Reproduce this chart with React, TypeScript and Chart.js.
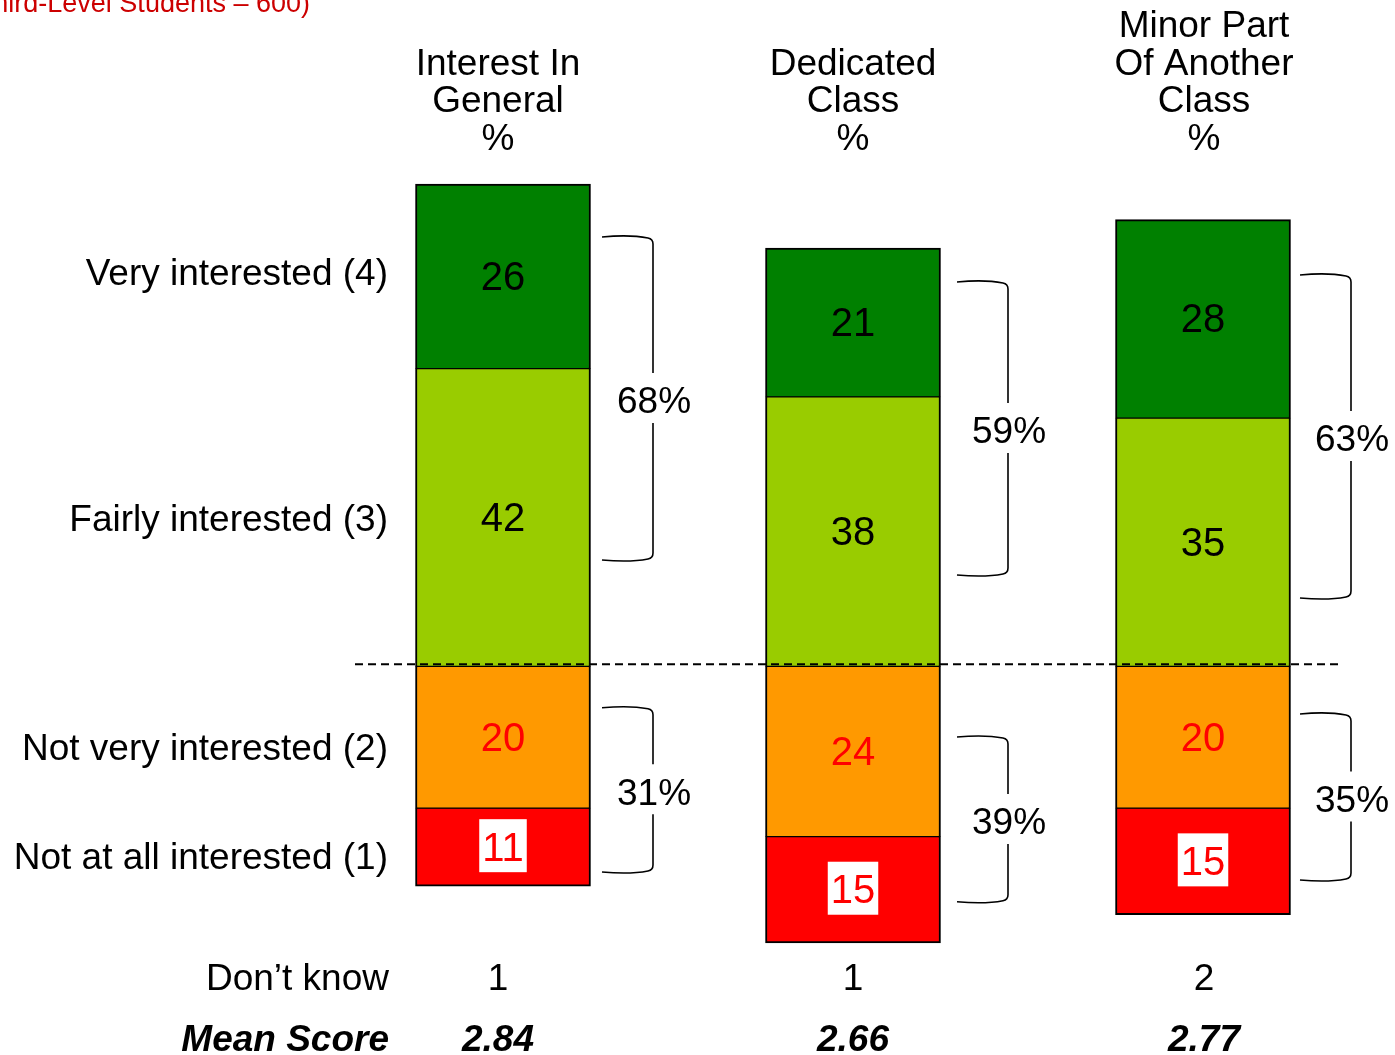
import { useEffect, useRef } from "react";
import { Chart, registerables } from "chart.js";

Chart.register(...registerables);

// ---- data ----
const categories = ["Interest In General", "Dedicated Class", "Minor Part Of Another Class"];
const columnHeaders = [
  ["Interest In", "General", "%"],
  ["Dedicated", "Class", "%"],
  ["Minor Part", "Of Another", "Class", "%"],
];
const veryInterested = [26, 21, 28];
const fairlyInterested = [42, 38, 35];
const notVeryInterested = [20, 24, 20];
const notAtAllInterested = [11, 15, 15];
const dontKnow = [1, 1, 2];
const meanScores = ["2.84", "2.66", "2.77"];
const rowLabels = [
  "Very interested (4)",
  "Fairly interested (3)",
  "Not very interested (2)",
  "Not at all interested (1)",
];
const baseNote = "(Base: All Third-Level Students – 600)";

// ---- layout (axis units / pixel offsets) ----
const rowLabelCenters = [55.6, 20.9, -11.4, -26.7];
const topBracketSpans = [
  [60.56, 15.0],
  [54.21, 12.89],
  [55.2, 9.65],
];
const bottomBracketSpans = [
  [-5.84, -28.99],
  [-9.96, -33.2],
  [-6.71, -30.12],
];
const bracketShift = [0, 5, -2];
const columnTextShift = [-5, 0, 1];

const FONT_FAMILY = '"Liberation Sans", Arial, Helvetica, sans-serif';
const TEXT_SIZE = 37;
const VALUE_SIZE = 40;
const FONT = `${TEXT_SIZE}px ${FONT_FAMILY}`;
const FONT_BI = `italic bold ${TEXT_SIZE}px ${FONT_FAMILY}`;
const VALUE_FONT = `${VALUE_SIZE}px ${FONT_FAMILY}`;
const CAP = 0.358; // half cap-height as a fraction of the font size

const colors = {
  very: "#008000",
  fairly: "#99CC00",
  notVery: "#FF9900",
  notAtAll: "#FF0000",
};

function sumArrays(a: number[], b: number[]) {
  return a.map((v, i) => v + b[i]);
}

// text vertically centred on its cap height
function centeredText(ctx: CanvasRenderingContext2D, txt: string, x: number, cy: number, size: number) {
  ctx.textBaseline = "alphabetic";
  ctx.fillText(txt, x, cy + CAP * size);
}

function drawBracket(
  ctx: CanvasRenderingContext2D,
  x0: number,
  x1: number,
  top: number,
  bottom: number,
  label: string
) {
  const mid = (top + bottom) / 2 + 1.5;
  ctx.beginPath();
  ctx.moveTo(x0, top);
  ctx.quadraticCurveTo(x0 + (x1 - x0) * 0.55, top - 2.5, x1 - 5, top + 1);
  ctx.quadraticCurveTo(x1, top + 2, x1, top + 7);
  ctx.lineTo(x1, mid - 27);
  ctx.moveTo(x1, mid + 23);
  ctx.lineTo(x1, bottom - 7);
  ctx.quadraticCurveTo(x1, bottom - 2, x1 - 5, bottom - 1);
  ctx.quadraticCurveTo(x0 + (x1 - x0) * 0.55, bottom + 2.5, x0, bottom);
  ctx.stroke();
  ctx.textAlign = "center";
  centeredText(ctx, label, x1 + 1, mid, TEXT_SIZE);
}

const overlayPlugin = {
  id: "surveyOverlay",
  afterDatasetsDraw(chart: any) {
    const ctx: CanvasRenderingContext2D = chart.ctx;
    const yScale = chart.scales.y;
    const zeroY = yScale.getPixelForValue(0);
    const centers: number[] = chart.getDatasetMeta(0).data.map((b: any) => b.x);

    ctx.save();

    // values inside each segment
    chart.data.datasets.forEach((ds: any, di: number) => {
      const meta = chart.getDatasetMeta(di);
      meta.data.forEach((bar: any, i: number) => {
        const { x, y, base } = bar.getProps(["x", "y", "base"], true);
        const cy = (y + base) / 2 - 1;
        const txt = String(Math.abs(ds.data[i]));
        ctx.font = VALUE_FONT;
        if (ds.boxedLabel) {
          const w = ctx.measureText(txt).width + 6;
          ctx.fillStyle = "#FFFFFF";
          ctx.fillRect(x - w / 2, cy - 27, w, 53);
        }
        ctx.fillStyle = ds.labelColor;
        ctx.textAlign = "center";
        centeredText(ctx, txt, x, cy, VALUE_SIZE);
      });
    });

    // dashed line along the zero boundary
    ctx.strokeStyle = "#000";
    ctx.lineWidth = 2;
    ctx.setLineDash([8, 5]);
    ctx.beginPath();
    ctx.moveTo(355, zeroY - 2);
    ctx.lineTo(1340, zeroY - 2);
    ctx.stroke();
    ctx.setLineDash([]);

    // net brackets
    const topNets = sumArrays(veryInterested, fairlyInterested);
    const bottomNets = sumArrays(notVeryInterested, notAtAllInterested);
    ctx.lineWidth = 1.6;
    ctx.fillStyle = "#000";
    ctx.font = FONT;
    centers.forEach((cx, i) => {
      const x0 = cx + 99 + bracketShift[i];
      const x1 = cx + 150 + bracketShift[i];
      drawBracket(
        ctx,
        x0,
        x1,
        yScale.getPixelForValue(topBracketSpans[i][0]),
        yScale.getPixelForValue(topBracketSpans[i][1]),
        `${topNets[i]}%`
      );
      drawBracket(
        ctx,
        x0,
        x1,
        yScale.getPixelForValue(bottomBracketSpans[i][0]),
        yScale.getPixelForValue(bottomBracketSpans[i][1]),
        `${bottomNets[i]}%`
      );
    });

    // row labels on the left
    ctx.textAlign = "right";
    rowLabels.forEach((label, i) => {
      centeredText(ctx, label, 388, yScale.getPixelForValue(rowLabelCenters[i]), TEXT_SIZE);
    });

    // column headers
    ctx.textAlign = "center";
    ctx.textBaseline = "alphabetic";
    columnHeaders.forEach((lines, i) => {
      const cx = centers[i] + columnTextShift[i];
      lines.forEach((line, k) => {
        const fromBottom = lines.length - 1 - k;
        ctx.fillText(line, cx, 150 - fromBottom * 37.7);
      });
    });

    // bottom rows
    ctx.textAlign = "right";
    ctx.fillText("Don\u2019t know", 389, 990);
    ctx.font = FONT_BI;
    ctx.fillText("Mean Score", 389, 1051);
    ctx.textAlign = "center";
    centers.forEach((cx, i) => {
      const tx = cx + columnTextShift[i];
      ctx.font = FONT;
      ctx.fillText(String(dontKnow[i]), tx, 990);
      ctx.font = FONT_BI;
      ctx.fillText(meanScores[i], tx, 1051);
    });

    // base note
    ctx.font = `27px ${FONT_FAMILY}`;
    ctx.fillStyle = "#CC0000";
    ctx.textAlign = "right";
    ctx.textBaseline = "alphabetic";
    ctx.fillText(baseNote, 310, 12);

    ctx.restore();
  },
};

export default function App() {
  const canvasRef = useRef<HTMLCanvasElement | null>(null);

  useEffect(() => {
    const canvas = canvasRef.current;
    if (!canvas) return;
    const common = {
      borderColor: "#000000",
      borderSkipped: false as const,
      barThickness: 175,
    };
    const chart = new Chart(canvas, {
      type: "bar",
      data: {
        labels: categories,
        datasets: [
          {
            ...common,
            label: "Fairly interested (3)",
            data: fairlyInterested,
            backgroundColor: colors.fairly,
            borderWidth: { top: 1, bottom: 1, left: 2, right: 2 },
            labelColor: "#000000",
          } as any,
          {
            ...common,
            label: "Very interested (4)",
            data: veryInterested,
            backgroundColor: colors.very,
            borderWidth: { top: 2, bottom: 1, left: 2, right: 2 },
            labelColor: "#000000",
          } as any,
          {
            ...common,
            label: "Not very interested (2)",
            data: notVeryInterested.map((v) => -v),
            backgroundColor: colors.notVery,
            borderWidth: { top: 1, bottom: 1, left: 2, right: 2 },
            labelColor: "#FF0000",
          } as any,
          {
            ...common,
            label: "Not at all interested (1)",
            data: notAtAllInterested.map((v) => -v),
            backgroundColor: colors.notAtAll,
            borderWidth: { top: 1, bottom: 2, left: 2, right: 2 },
            labelColor: "#FF0000",
            boxedLabel: true,
          } as any,
        ],
      },
      options: {
        responsive: false,
        animation: false,
        devicePixelRatio: 1,
        layout: { padding: { top: 170, bottom: 105, left: 328, right: 17 } },
        plugins: {
          legend: { display: false },
          tooltip: { enabled: false },
        },
        scales: {
          x: { display: false, stacked: true, offset: true },
          y: { display: false, stacked: true, min: -40, max: 70 },
        },
      },
      plugins: [overlayPlugin],
    });
    return () => chart.destroy();
  }, []);

  return (
    <div
      style={{
        position: "absolute",
        left: 0,
        top: 0,
        width: 1395,
        height: 1055,
        background: "#FFFFFF",
      }}
    >
      <canvas
        ref={canvasRef}
        width={1395}
        height={1055}
        style={{ display: "block", width: 1395, height: 1055 }}
      />
    </div>
  );
}
